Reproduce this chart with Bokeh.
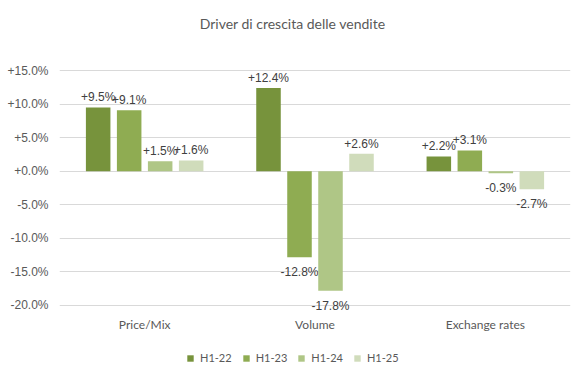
from bokeh.plotting import figure
from bokeh.models import (ColumnDataSource, Range1d, FactorRange, Legend, LegendItem,
                          CustomJSTickFormatter, Label)
from bokeh.transform import dodge
from bokeh.core.properties import value
from bokeh.embed import file_html
from bokeh.resources import INLINE

title = "Driver di crescita delle vendite"
categories = ["Price/Mix", "Volume", "Exchange rates"]
series = ["H1-22", "H1-23", "H1-24", "H1-25"]
h1_22 = [9.5, 12.4, 2.2]
h1_23 = [9.1, -12.8, 3.1]
h1_24 = [1.5, -17.8, -0.3]
h1_25 = [1.6, 2.6, -2.7]
colors = ["#77933C", "#8FAC52", "#AFC686", "#D0DCBB"]
offsets = [-0.273, -0.091, 0.091, 0.273]
y_ticks = [-20, -15, -10, -5, 0, 5, 10, 15]

p = figure(x_range=FactorRange(*categories), y_range=Range1d(-30.43, 25.43),
           width=574, height=375, output_backend="svg", toolbar_location=None,
           min_border_left=59, min_border_right=4, min_border_top=0, min_border_bottom=0)
p.outline_line_color = None
p.xgrid.grid_line_color = None
p.xaxis.visible = False
p.ygrid.grid_line_color = "#D9D9D9"
p.ygrid.grid_line_width = 1
p.yaxis.ticker = y_ticks
p.yaxis.formatter = CustomJSTickFormatter(code="return (tick >= 0 ? '+' : '') + tick.toFixed(1) + '%';")
p.yaxis.axis_line_color = None
p.yaxis.major_tick_line_color = None
p.yaxis.minor_tick_line_color = None
p.yaxis.major_tick_out = 0
p.yaxis.major_tick_in = 0
p.yaxis.minor_tick_out = 0
p.yaxis.major_label_text_color = "#595959"
p.yaxis.major_label_text_font = "Liberation Sans"
p.yaxis.major_label_text_font_size = "12px"
p.yaxis.major_label_standoff = 11

# title
p.add_layout(Label(x=1.369, y=22.07, text=title, text_align="center", text_baseline="middle",
                   text_font="Lato", text_font_size="14px", text_color="#595959"))

# category labels
cat_src = ColumnDataSource(dict(cat=categories, y=[-22.83] * len(categories)))
p.text(x="cat", y="y", text="cat", source=cat_src, text_align="center", text_baseline="middle",
       text_font=value("Lato"), text_font_size="12px", text_color="#595959")

items = []
for name, vals, col, off in zip(series, [h1_22, h1_23, h1_24, h1_25], colors, offsets):
    labels = [("+" if v >= 0 else "") + f"{v:.1f}%" for v in vals]
    src = ColumnDataSource(dict(cat=categories, val=vals, lab=labels))
    r = p.vbar(x=dodge("cat", off, range=p.x_range), top="val", bottom=0, width=0.144,
               source=src, fill_color=col, line_color=None)
    items.append(LegendItem(label=name, renderers=[r]))
    pos = ColumnDataSource(dict(cat=[c for c, v in zip(categories, vals) if v >= 0],
                                val=[v for v in vals if v >= 0],
                                lab=[l for l, v in zip(labels, vals) if v >= 0]))
    neg = ColumnDataSource(dict(cat=[c for c, v in zip(categories, vals) if v < 0],
                                val=[v for v in vals if v < 0],
                                lab=[l for l, v in zip(labels, vals) if v < 0]))
    p.text(x=dodge("cat", off, range=p.x_range), y="val", text="lab", source=pos,
           text_align="center", text_baseline="alphabetic", y_offset=-10,
           text_font=value("Liberation Sans"), text_font_size="12px", text_color="#404040")
    p.text(x=dodge("cat", off, range=p.x_range), y="val", text="lab", source=neg,
           text_align="center", text_baseline="top", y_offset=8,
           text_font=value("Liberation Sans"), text_font_size="12px", text_color="#404040")

legend = Legend(items=items, orientation="horizontal", location=(127, 11),
                glyph_width=8, glyph_height=8, label_standoff=6, spacing=10,
                label_text_font="Lato", label_text_font_size="11px", label_text_color="#595959",
                border_line_color=None, background_fill_alpha=0, margin=0, padding=6)
p.add_layout(legend, "center")

open("out.html", "w").write(file_html(p, INLINE))
